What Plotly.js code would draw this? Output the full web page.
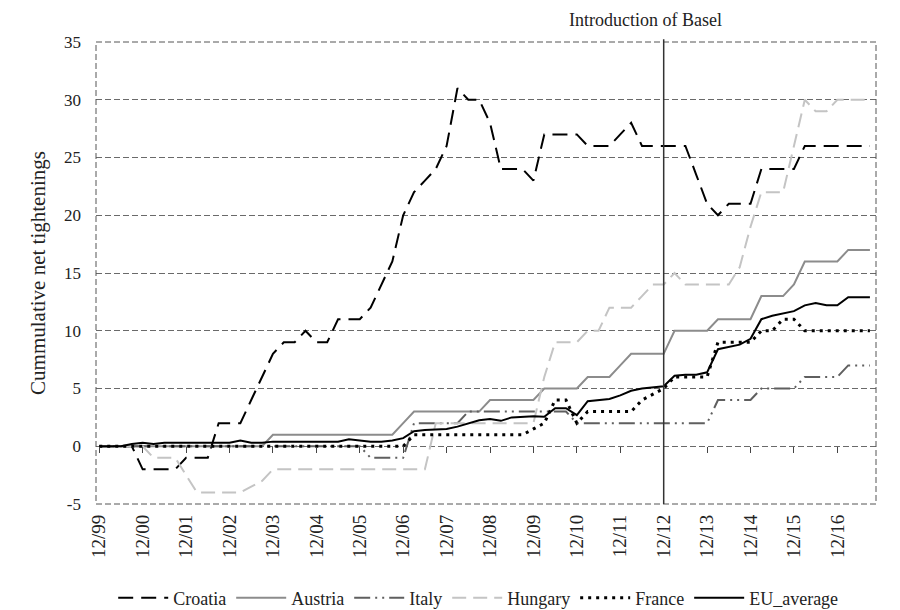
<!DOCTYPE html>
<html><head><meta charset="utf-8">
<script src="https://cdn.plot.ly/plotly-3.0.1.min.js"></script>
<style>html,body{margin:0;padding:0;background:#fff}#chart{width:900px;height:610px}</style>
</head><body><div id="chart"></div>
<script>
// quarterly periods 12/99 ... 09/17
const periods = [];
for (let yr = 1999; yr <= 2017; yr++) {
  for (const m of ['03','06','09','12']) {
    if ((yr === 1999 && m !== '12') || (yr === 2017 && m === '12')) continue;
    periods.push(m + '/' + String(yr % 100).padStart(2, '0'));
  }
}
const tickLabels = ['12/99','12/00','12/01','12/02','12/03','12/04','12/05','12/06','12/07','12/08','12/09','12/10','12/11','12/12','12/13','12/14','12/15','12/16'];

const croatia = [0,0,0,0,-2,-2,-2,-2,-1,-1, -1,2,2,2,4,6,8,9,9,10, 9,9,11,11,11,12,14,16,20,22,
  23,24,26,31,30,30,28,24,24,24, 23,27,27,27,27,26,26,26,27,28, 26,26,26,26,26,23.5,21,20,21,21,
  21,24,24,24,24,26,26,26,26,26, 26,26];
const austria = [0,0,0,0,0,0,0,0,0,0, 0,0,0,0,0,0,1,1,1,1, 1,1,1,1,1,1,1,1,2,3,
  3,3,3,3,3,3,4,4,4,4, 4,5,5,5,5,6,6,6,7,8, 8,8,8,10,10,10,10,11,11,11,
  11,13,13,13,14,16,16,16,16,17, 17,17];
const italy = [0,0,0,0,0,0,0,0,0,0, 0,0,0,0,0,0,0,0,0,0, 0,0,0,0,0,-1,-1,-1,-1,2,
  2,2,2,2,3,3,3,3,3,3, 3,3,3,3,2,2,2,2,2,2, 2,2,2,2,2,2,2,4,4,4,
  4,5,5,5,5,6,6,6,6,7, 7,7];
const hungary = [0,0,0,0,0,-1,-1,-1,-2.5,-4, -4,-4,-4,-4,-3.5,-3,-2,-2,-2,-2, -2,-2,-2,-2,-2,-2,-2,-2,-2,-2,
  -2,2,2,2,2,2,2,2,2,2, 2,6,9,9,9,10,10,12,12,12, 13,14,14,15,14,14,14,14,14,15.5,
  19,22,22,22,26,30,29,29,30,30, 30,30];
const france = [0,0,0,0,0,0,0,0,0,0, 0,0,0,0,0,0,0,0,0,0, 0,0,0,0,0,0,0,0,0,1,
  1,1,1,1,1,1,1,1,1,1, 1.5,2,4,4,2,3,3,3,3,3, 4,4.5,5,6,6,6,6,9,9,9,
  9,10,10,11,11,10,10,10,10,10, 10,10];
const euAverage = [0,0,0,0.2,0.3,0.2,0.3,0.3,0.3,0.3, 0.3,0.3,0.3,0.5,0.3,0.3,0.4,0.4,0.4,0.4,
  0.4,0.4,0.4,0.6,0.5,0.4,0.4,0.5,0.7,1.3, 1.4,1.45,1.5,1.7,2.0,2.25,2.35,2.2,2.5,2.55,
  2.6,2.55,3.3,3.3,2.7,3.9,4.0,4.1,4.4,4.8, 5.0,5.1,5.2,6.1,6.2,6.2,6.4,8.4,8.6,8.8,
  9.3,11.0,11.3,11.5,11.7,12.2,12.4,12.2,12.2,12.9, 12.9,12.9];

const serif = 'Liberation Serif';
const mk = (name, y, color, width, dash) => ({
  type: 'scatter', mode: 'lines', name: name, x: periods, y: y,
  line: {color: color, width: width, dash: dash}, hoverinfo: 'skip'
});

const traces = [
  mk('Croatia', croatia, '#000000', 2, '15px,8px'),
  mk('Austria', austria, '#8c8c8c', 2, 'solid'),
  mk('Italy', italy, '#5f5f5f', 2, '16px,5px,2px,5px,2px,5px'),
  mk('Hungary', hungary, '#c4c4c4', 2, '14px,7px'),
  mk('France', france, '#000000', 3, '3px,5px'),
  mk('EU_average', euAverage, '#000000', 2, 'solid')
];

const yVals = [-5,0,5,10,15,20,25,30,35];
const xr = [-0.3, 71.56];
const layout = {
  width: 900, height: 610,
  margin: {l: 96, r: 24, t: 42, b: 106, autoexpand: false},
  paper_bgcolor: '#ffffff', plot_bgcolor: '#ffffff',
  font: {family: serif, color: '#222', size: 17},
  showlegend: true,
  legend: {orientation: 'h', x: 0.49, xanchor: 'center', y: -0.2035, yanchor: 'middle',
    font: {family: serif, size: 18, color: '#222'}, itemwidth: 50, bgcolor: 'rgba(0,0,0,0)'},
  xaxis: {type: 'category', range: xr, tickvals: tickLabels, ticktext: tickLabels,
    tickangle: -90, ticks: '', showgrid: false, zeroline: false, showline: false,
    tickfont: {family: serif, size: 19, color: '#222'}, automargin: false, ticklabelstandoff: 6},
  xaxis2: {overlaying: 'x', anchor: 'free', position: 0.125, range: xr, type: 'linear',
    tickvals: [0,4,8,12,16,20,24,28,32,36,40,44,48,52,56,60,64,68],
    ticks: 'outside', ticklen: 6, tickcolor: '#444', tickwidth: 1,
    showticklabels: false, showgrid: false, zeroline: false, showline: false},
  yaxis: {range: [-5, 35], tickvals: yVals, ticktext: yVals.map(String),
    showgrid: true, gridcolor: '#6a6a6a', gridwidth: 1, griddash: '6px,3px',
    zeroline: false, showline: false, ticks: '', ticklabelstandoff: 14,
    tickfont: {family: serif, size: 17, color: '#222'}, automargin: false,
    title: {text: 'Cummulative net tightenings', font: {family: serif, size: 21, color: '#222'}, standoff: 12}},
  shapes: [
    {type: 'rect', xref: 'paper', yref: 'paper', x0: 0, x1: 1, y0: 0, y1: 1,
      line: {color: '#555', width: 1, dash: '6px,3px'}},
    {type: 'line', xref: 'x', yref: 'paper', x0: 52, x1: 52, y0: 0, y1: 1.006,
      line: {color: '#333', width: 1.5}}
  ],
  annotations: [
    {text: 'Introduction of Basel', xref: 'x', yref: 'paper', x: 52, y: 1, xanchor: 'center',
      yanchor: 'bottom', xshift: -18, yshift: 10, showarrow: false,
      font: {family: serif, size: 18, color: '#222'}}
  ]
};

// invisible trace to realize the tick-mark axis at y = 0
traces.push({type: 'scatter', mode: 'lines', x: [0], y: [null], xaxis: 'x2', showlegend: false, hoverinfo: 'skip'});

Plotly.newPlot('chart', traces, layout, {displayModeBar: false, staticPlot: true});
</script></body></html>
